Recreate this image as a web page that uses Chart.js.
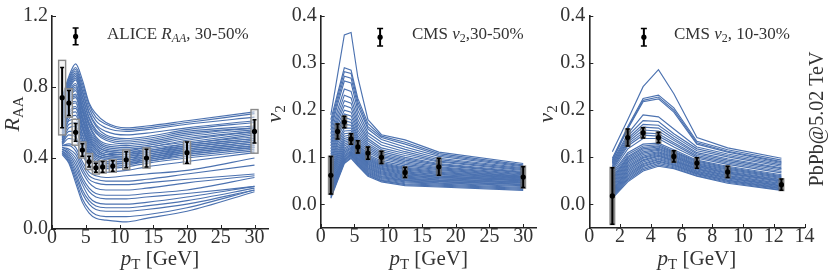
<!DOCTYPE html>
<html><head><meta charset="utf-8">
<script src="https://cdn.jsdelivr.net/npm/chart.js"></script>
<style>
html,body{margin:0;padding:0;background:#fff;}
#wrap{position:relative;width:830px;height:277px;overflow:hidden;background:#fff;}
#wrap canvas{position:absolute;left:0;top:0;}
</style></head><body>
<div id="wrap">
<canvas id="c1" width="830" height="277"></canvas>
<canvas id="c2" width="830" height="277"></canvas>
<canvas id="c3" width="830" height="277"></canvas>
</div>
<script>
// ---------- Panel 1: ALICE R_AA 30-50% ----------
const raaModelPt = [1.5, 2.5, 3.5, 4.5, 5.5, 6.5, 8, 11, 14, 20, 30];
const raaModels = [
 [0.74,0.86,0.93,0.84,0.71,0.65,0.60,0.57,0.58,0.61,0.66],
 [0.73,0.85,0.91,0.82,0.70,0.63,0.59,0.56,0.57,0.60,0.65],
 [0.72,0.84,0.90,0.80,0.68,0.61,0.57,0.55,0.56,0.59,0.63],
 [0.71,0.83,0.89,0.78,0.66,0.59,0.55,0.53,0.54,0.57,0.61],
 [0.70,0.82,0.88,0.77,0.65,0.58,0.53,0.51,0.52,0.56,0.60],
 [0.69,0.81,0.87,0.75,0.63,0.56,0.52,0.50,0.51,0.55,0.58],
 [0.68,0.80,0.86,0.74,0.62,0.55,0.51,0.49,0.50,0.54,0.57],
 [0.67,0.79,0.85,0.72,0.60,0.54,0.50,0.48,0.49,0.53,0.57],
 [0.66,0.78,0.84,0.71,0.59,0.52,0.48,0.47,0.48,0.52,0.56],
 [0.65,0.77,0.82,0.69,0.58,0.51,0.47,0.46,0.47,0.51,0.55],
 [0.64,0.76,0.81,0.68,0.56,0.50,0.46,0.45,0.46,0.50,0.55],
 [0.63,0.75,0.80,0.67,0.55,0.49,0.45,0.44,0.46,0.49,0.54],
 [0.62,0.74,0.79,0.66,0.54,0.48,0.44,0.43,0.45,0.48,0.53],
 [0.61,0.73,0.78,0.64,0.53,0.47,0.44,0.43,0.44,0.48,0.52],
 [0.60,0.72,0.76,0.63,0.52,0.46,0.43,0.42,0.44,0.47,0.51],
 [0.59,0.71,0.75,0.62,0.51,0.45,0.42,0.42,0.43,0.47,0.51],
 [0.58,0.70,0.74,0.61,0.50,0.45,0.42,0.41,0.43,0.46,0.50],
 [0.57,0.69,0.72,0.59,0.49,0.44,0.41,0.41,0.42,0.46,0.50],
 [0.56,0.68,0.71,0.58,0.48,0.43,0.41,0.40,0.42,0.45,0.49],
 [0.55,0.66,0.69,0.57,0.47,0.42,0.40,0.40,0.41,0.45,0.49],
 [0.54,0.65,0.68,0.56,0.46,0.42,0.40,0.39,0.41,0.44,0.48],
 [0.53,0.64,0.66,0.54,0.45,0.41,0.39,0.39,0.40,0.44,0.48],
 [0.52,0.62,0.64,0.53,0.44,0.40,0.38,0.38,0.40,0.43,0.47],
 [0.51,0.61,0.62,0.51,0.43,0.39,0.38,0.38,0.39,0.43,0.47],
 [0.50,0.59,0.60,0.50,0.42,0.38,0.37,0.37,0.39,0.42,0.46],
 [0.49,0.57,0.58,0.48,0.41,0.37,0.36,0.37,0.38,0.42,0.46],
 [0.485,0.55,0.55,0.46,0.39,0.36,0.35,0.36,0.38,0.41,0.45],
 [0.48,0.53,0.52,0.44,0.37,0.34,0.34,0.35,0.37,0.40,0.44],
 [0.475,0.51,0.50,0.42,0.35,0.32,0.32,0.33,0.35,0.38,0.43],
 [0.47,0.48,0.46,0.38,0.32,0.30,0.29,0.30,0.31,0.33,0.40],
 [0.47,0.47,0.44,0.36,0.30,0.28,0.27,0.27,0.28,0.31,0.36],
 [0.46,0.45,0.42,0.34,0.28,0.26,0.25,0.25,0.26,0.28,0.31],
 [0.46,0.44,0.40,0.32,0.26,0.23,0.22,0.22,0.23,0.26,0.30],
 [0.45,0.43,0.38,0.29,0.23,0.20,0.19,0.19,0.20,0.22,0.29],
 [0.45,0.42,0.36,0.27,0.21,0.18,0.17,0.17,0.18,0.20,0.24],
 [0.44,0.41,0.34,0.25,0.18,0.15,0.14,0.14,0.15,0.18,0.24],
 [0.44,0.40,0.32,0.22,0.16,0.13,0.12,0.12,0.13,0.16,0.23],
 [0.43,0.39,0.30,0.20,0.14,0.11,0.10,0.10,0.11,0.14,0.22],
 [0.43,0.38,0.28,0.17,0.11,0.08,0.07,0.07,0.08,0.12,0.22],
 [0.42,0.37,0.26,0.15,0.09,0.06,0.05,0.04,0.06,0.10,0.21]
];
const raaPt   = [1.5, 2.5, 3.5, 4.5, 5.5, 6.5, 7.5, 9, 11, 14, 20, 30];
const raaVal  = [0.74, 0.71, 0.545, 0.445, 0.38, 0.345, 0.35, 0.355, 0.39, 0.40, 0.43, 0.55];
const raaStat = [0.17, 0.07, 0.05, 0.035, 0.03, 0.025, 0.03, 0.03, 0.045, 0.05, 0.06, 0.065];
const raaSys  = [0.21, 0.08, 0.073, 0.045, 0.045, 0.035, 0.035, 0.035, 0.055, 0.057, 0.063, 0.123];
const raaLegend = [3.5, 1.085, 0.047];
const raaTicksX = [0, 5, 10, 15, 20, 25, 30];
const raaTicksY = [0.0, 0.4, 0.8, 1.2];

// ---------- Panel 2: CMS v2 30-50% ----------
const v2aModelPt = [1.5, 2.5, 3.5, 4.5, 5.5, 7, 9, 12.5, 17.5, 30];
const v2aModels = [
 [0.190,0.275,0.360,0.365,0.270,0.180,0.148,0.137,0.111,0.087],
 [0.180,0.235,0.290,0.285,0.225,0.172,0.145,0.132,0.108,0.084],
 [0.172,0.228,0.282,0.278,0.218,0.165,0.142,0.128,0.105,0.082],
 [0.165,0.220,0.272,0.268,0.210,0.160,0.138,0.122,0.102,0.080],
 [0.158,0.212,0.262,0.258,0.200,0.152,0.132,0.117,0.098,0.078],
 [0.150,0.200,0.245,0.240,0.190,0.146,0.126,0.112,0.095,0.076],
 [0.143,0.190,0.232,0.226,0.180,0.140,0.120,0.108,0.092,0.074],
 [0.136,0.182,0.220,0.215,0.172,0.135,0.116,0.104,0.090,0.072],
 [0.130,0.175,0.210,0.205,0.165,0.130,0.112,0.100,0.087,0.070],
 [0.124,0.168,0.200,0.196,0.158,0.126,0.108,0.097,0.085,0.068],
 [0.118,0.160,0.192,0.188,0.152,0.122,0.105,0.094,0.083,0.067],
 [0.112,0.154,0.185,0.180,0.146,0.118,0.102,0.091,0.080,0.065],
 [0.106,0.148,0.178,0.174,0.141,0.114,0.099,0.088,0.078,0.063],
 [0.100,0.142,0.170,0.168,0.136,0.110,0.096,0.085,0.076,0.062],
 [0.095,0.135,0.162,0.162,0.132,0.106,0.092,0.082,0.074,0.060],
 [0.090,0.130,0.156,0.157,0.128,0.103,0.089,0.079,0.072,0.059],
 [0.085,0.124,0.150,0.152,0.125,0.100,0.087,0.077,0.070,0.058],
 [0.080,0.118,0.145,0.148,0.122,0.098,0.085,0.075,0.068,0.057],
 [0.075,0.113,0.140,0.144,0.119,0.096,0.083,0.073,0.066,0.056],
 [0.070,0.108,0.136,0.140,0.116,0.094,0.081,0.071,0.064,0.055],
 [0.066,0.104,0.132,0.137,0.114,0.092,0.079,0.069,0.063,0.054],
 [0.062,0.100,0.128,0.134,0.112,0.090,0.077,0.067,0.061,0.053],
 [0.058,0.096,0.124,0.131,0.110,0.088,0.075,0.065,0.060,0.052],
 [0.054,0.092,0.120,0.128,0.108,0.086,0.073,0.063,0.058,0.051],
 [0.050,0.088,0.117,0.125,0.106,0.084,0.071,0.062,0.057,0.050],
 [0.046,0.084,0.114,0.122,0.104,0.082,0.069,0.060,0.055,0.048],
 [0.042,0.080,0.111,0.120,0.102,0.080,0.067,0.058,0.054,0.047],
 [0.038,0.076,0.108,0.118,0.100,0.078,0.065,0.056,0.052,0.046],
 [0.035,0.073,0.105,0.115,0.098,0.076,0.063,0.054,0.051,0.045],
 [0.032,0.070,0.102,0.113,0.096,0.074,0.061,0.053,0.049,0.043],
 [0.029,0.067,0.100,0.111,0.094,0.072,0.059,0.051,0.048,0.042],
 [0.026,0.064,0.097,0.109,0.092,0.070,0.057,0.050,0.046,0.040],
 [0.023,0.061,0.095,0.107,0.090,0.068,0.055,0.048,0.045,0.038],
 [0.020,0.058,0.093,0.105,0.088,0.066,0.053,0.046,0.043,0.036],
 [0.018,0.056,0.091,0.103,0.086,0.064,0.051,0.044,0.041,0.034],
 [0.015,0.053,0.089,0.100,0.084,0.062,0.050,0.042,0.039,0.032],
 [0.013,0.050,0.087,0.098,0.082,0.060,0.048,0.040,0.037,0.030]
];
const v2aPt   = [1.5, 2.5, 3.5, 4.5, 5.5, 7, 9, 12.5, 17.5, 30];
const v2aVal  = [0.062, 0.155, 0.175, 0.139, 0.122, 0.109, 0.100, 0.068, 0.080, 0.058];
const v2aStat = [0.040, 0.016, 0.012, 0.011, 0.013, 0.013, 0.013, 0.011, 0.018, 0.022];
const v2aSys  = [0.042, 0.018, 0.014, 0.013, 0.015, 0.015, 0.015, 0.013, 0.020, 0.025];
const v2aLegend = [8.8, 0.355, 0.0185];
const v2aTicksX = [0, 5, 10, 15, 20, 25, 30];

// ---------- Panel 3: CMS v2 10-30% ----------
const v2bModelPt = [1.5, 2.5, 3.5, 4.5, 5.5, 7, 9, 12.5];
const v2bModels = [
 [0.112,0.180,0.250,0.286,0.235,0.142,0.120,0.098],
 [0.098,0.165,0.225,0.232,0.205,0.134,0.116,0.094],
 [0.095,0.162,0.221,0.228,0.200,0.131,0.113,0.091],
 [0.093,0.160,0.218,0.224,0.196,0.128,0.111,0.089],
 [0.090,0.150,0.190,0.186,0.160,0.122,0.107,0.087],
 [0.088,0.145,0.178,0.176,0.150,0.118,0.104,0.084],
 [0.085,0.140,0.170,0.168,0.145,0.114,0.101,0.081],
 [0.082,0.136,0.164,0.162,0.140,0.110,0.097,0.078],
 [0.080,0.132,0.158,0.156,0.136,0.107,0.094,0.076],
 [0.077,0.128,0.152,0.150,0.131,0.104,0.091,0.073],
 [0.074,0.124,0.147,0.145,0.127,0.101,0.088,0.070],
 [0.070,0.118,0.140,0.140,0.122,0.098,0.085,0.067],
 [0.066,0.110,0.128,0.130,0.116,0.094,0.081,0.063],
 [0.062,0.106,0.124,0.127,0.113,0.092,0.079,0.061],
 [0.058,0.102,0.121,0.124,0.111,0.090,0.077,0.059],
 [0.055,0.099,0.118,0.122,0.109,0.088,0.075,0.057],
 [0.052,0.096,0.115,0.119,0.107,0.086,0.073,0.055],
 [0.049,0.093,0.112,0.117,0.105,0.084,0.071,0.053],
 [0.046,0.090,0.109,0.115,0.103,0.083,0.069,0.052],
 [0.043,0.087,0.106,0.112,0.101,0.081,0.067,0.050],
 [0.040,0.084,0.103,0.110,0.099,0.080,0.066,0.049],
 [0.037,0.081,0.100,0.108,0.097,0.078,0.064,0.047],
 [0.034,0.078,0.098,0.106,0.095,0.076,0.062,0.045],
 [0.031,0.075,0.095,0.104,0.093,0.075,0.061,0.044],
 [0.029,0.072,0.093,0.102,0.092,0.073,0.059,0.042],
 [0.027,0.069,0.090,0.099,0.090,0.071,0.057,0.040],
 [0.025,0.066,0.087,0.097,0.088,0.070,0.056,0.039],
 [0.023,0.063,0.085,0.095,0.086,0.068,0.054,0.037],
 [0.021,0.060,0.082,0.092,0.084,0.066,0.052,0.036],
 [0.019,0.057,0.080,0.090,0.082,0.065,0.051,0.034],
 [0.017,0.054,0.077,0.087,0.080,0.063,0.049,0.033],
 [0.015,0.051,0.074,0.084,0.078,0.061,0.047,0.031],
 [0.013,0.048,0.071,0.081,0.076,0.060,0.045,0.030]
];
const v2bPt   = [1.5, 2.5, 3.5, 4.5, 5.5, 7, 9, 12.5];
const v2bVal  = [0.018, 0.142, 0.152, 0.142, 0.102, 0.088, 0.069, 0.042];
const v2bStat = [0.060, 0.018, 0.011, 0.011, 0.012, 0.011, 0.012, 0.012];
const v2bSys  = [0.062, 0.020, 0.013, 0.013, 0.014, 0.013, 0.014, 0.014];
const v2bLegend = [3.55, 0.355, 0.0185];
const v2bTicksX = [0, 2, 4, 6, 8, 10, 12, 14];
const v2TicksY = [0.0, 0.1, 0.2, 0.3, 0.4];

// ---------- drawing ----------
const BLUE = '#4C72B0';
const AXC = '#222';
const TXT = '#333';
const SERIF = '"Liberation Serif", "DejaVu Serif", serif';

function drawRich(ctx, parts, x, y, align, rot) {
  ctx.save();
  ctx.translate(x, y);
  if (rot) ctx.rotate(rot);
  let w = 0;
  for (const p of parts) { ctx.font = p.f; w += ctx.measureText(p.t).width; }
  let cx = align === 'center' ? -w / 2 : (align === 'right' ? -w : 0);
  ctx.fillStyle = TXT; ctx.textBaseline = 'alphabetic'; ctx.textAlign = 'left';
  for (const p of parts) { ctx.font = p.f; ctx.fillText(p.t, cx, p.dy || 0); cx += ctx.measureText(p.t).width; }
  ctx.restore();
}

function overlay(p) {
  return {
    id: 'overlay',
    afterDraw(chart) {
      const ctx = chart.ctx, xs = chart.scales.x, ys = chart.scales.y;
      const area = chart.chartArea;
      ctx.save();
      // inward tick marks
      ctx.strokeStyle = AXC; ctx.lineWidth = 1;
      for (const v of p.ticksX) {
        const px = Math.round(xs.getPixelForValue(v)) + 0.5;
        ctx.beginPath(); ctx.moveTo(px, area.bottom); ctx.lineTo(px, area.bottom - 4); ctx.stroke();
      }
      for (const v of p.ticksY) {
        const py = Math.round(ys.getPixelForValue(v)) + 0.5;
        ctx.beginPath(); ctx.moveTo(area.left, py); ctx.lineTo(area.left + 4, py); ctx.stroke();
      }
      // systematic boxes
      for (let i = 0; i < p.pt.length; i++) {
        const px = xs.getPixelForValue(p.pt[i]);
        const y1 = ys.getPixelForValue(p.val[i] + p.sys[i]);
        const y2 = ys.getPixelForValue(p.val[i] - p.sys[i]);
        if (p.open) {
          ctx.fillStyle = 'rgba(235,235,235,0.55)';
          ctx.fillRect(px - 3.5, y1, 7, y2 - y1);
          ctx.strokeStyle = '#8a8a8a'; ctx.lineWidth = 1.4;
          ctx.strokeRect(px - 3.5, y1, 7, y2 - y1);
        } else {
          ctx.fillStyle = 'rgba(100,100,100,0.75)';
          ctx.fillRect(px - 3, y1, 6, y2 - y1);
        }
      }
      // stat error bars and points
      ctx.strokeStyle = '#000'; ctx.fillStyle = '#000';
      const bar = (x, v, e, cap) => {
        const px = xs.getPixelForValue(x);
        const y1 = ys.getPixelForValue(v + e), y2 = ys.getPixelForValue(v - e), py = ys.getPixelForValue(v);
        ctx.lineWidth = 2;
        ctx.beginPath(); ctx.moveTo(px, y1); ctx.lineTo(px, y2); ctx.stroke();
        ctx.lineWidth = 1.5;
        ctx.beginPath(); ctx.moveTo(px - cap, y1); ctx.lineTo(px + cap, y1);
        ctx.moveTo(px - cap, y2); ctx.lineTo(px + cap, y2); ctx.stroke();
        ctx.beginPath(); ctx.arc(px, py, 2.6, 0, Math.PI * 2); ctx.fill();
      };
      for (let i = 0; i < p.pt.length; i++) bar(p.pt[i], p.val[i], p.stat[i], 2);
      bar(p.legend[0], p.legend[1], p.legend[2], 3);
      ctx.restore();
      // texts
      const F = (s, it) => (it ? 'italic ' : '') + s + 'px ' + SERIF;
      drawRich(ctx, p.note, p.noteX, 38.5, 'left', 0);
      drawRich(ctx, [{t:'p', f:F(21, true)}, {t:'T', f:F(15), dy:4}, {t:' [GeV]', f:F(21)}],
               (area.left + area.right) / 2, 265, 'center', 0);
      drawRich(ctx, p.yTitle, p.yTitleX, 114, 'center', -Math.PI / 2);
      if (p.side) {
        ctx.save(); ctx.translate(823, 119); ctx.rotate(-Math.PI / 2);
        ctx.font = '20px ' + SERIF; ctx.fillStyle = TXT; ctx.textAlign = 'center'; ctx.textBaseline = 'alphabetic';
        ctx.fillText(p.side, 0, 0); ctx.restore();
      }
    }
  };
}

function buildPanel(id, p) {
  const datasets = p.models.map(curve => ({
    data: curve.map((y, i) => ({ x: p.modelPt[i], y })),
    borderColor: BLUE, borderWidth: 1.15, pointRadius: 0, fill: false,
    tension: p.smooth ? 0.4 : 0,
    cubicInterpolationMode: p.smooth ? 'monotone' : 'default'
  }));
  const tickFont = { family: SERIF, size: 20 };
  new Chart(document.getElementById(id), {
    type: 'line',
    data: { datasets },
    options: {
      responsive: false, animation: false, events: [],
      layout: { padding: { left: p.padL, right: p.padR, top: 12, bottom: 0 } },
      plugins: { legend: { display: false }, tooltip: { enabled: false } },
      scales: {
        x: {
          type: 'linear', min: 0, max: p.xmax,
          afterBuildTicks: s => { s.ticks = p.ticksX.map(v => ({ value: v })); },
          afterFit: s => { s.height = p.xh; },
          grid: { display: true, drawOnChartArea: false, drawTicks: false },
          border: { display: true, color: AXC, width: 1.6 },
          ticks: { font: tickFont, color: TXT, padding: -3, maxRotation: 0, autoSkip: false,
                   callback: v => String(v) }
        },
        y: {
          type: 'linear', min: p.ymin, max: p.ymax,
          afterBuildTicks: s => { s.ticks = p.ticksY.map(v => ({ value: v })); },
          afterFit: s => { s.width = 45; },
          grid: { display: true, drawOnChartArea: false, drawTicks: false },
          border: { display: true, color: AXC, width: 1.6 },
          ticks: { font: tickFont, color: TXT, padding: 4, autoSkip: false,
                   callback: v => Number(v).toFixed(1) }
        }
      }
    },
    plugins: [overlay(p)]
  });
}

const F = (s, it) => (it ? 'italic ' : '') + s + 'px ' + SERIF;

buildPanel('c1', {
  models: raaModels, modelPt: raaModelPt, smooth: true,
  pt: raaPt, val: raaVal, stat: raaStat, sys: raaSys, open: true, legend: raaLegend,
  ticksX: raaTicksX, ticksY: raaTicksY, xmax: 32, ymin: 0, ymax: 1.2, xh: 48,
  padL: 7, padR: 562,
  note: [{t:'ALICE ', f:F(17)}, {t:'R', f:F(17, true)}, {t:'AA', f:F(12, true), dy:3}, {t:', 30-50%', f:F(17)}],
  noteX: 107,
  yTitle: [{t:'R', f:F(22, true)}, {t:'AA', f:F(15), dy:4}], yTitleX: 19
});
buildPanel('c2', {
  models: v2aModels, modelPt: v2aModelPt, smooth: false,
  pt: v2aPt, val: v2aVal, stat: v2aStat, sys: v2aSys, open: false, legend: v2aLegend,
  ticksX: v2aTicksX, ticksY: v2TicksY, xmax: 32, ymin: -0.05, ymax: 0.4, xh: 49,
  padL: 275.7, padR: 293.3,
  note: [{t:'CMS ', f:F(17)}, {t:'v', f:F(17, true)}, {t:'2', f:F(12), dy:3}, {t:',30-50%', f:F(17)}],
  noteX: 412,
  yTitle: [{t:'v', f:F(22, true)}, {t:'2', f:F(15), dy:4}], yTitleX: 281
});
buildPanel('c3', {
  models: v2bModels, modelPt: v2bModelPt, smooth: false,
  pt: v2bPt, val: v2bVal, stat: v2bStat, sys: v2bSys, open: false, legend: v2bLegend,
  ticksX: v2bTicksX, ticksY: v2TicksY, xmax: 14, ymin: -0.05, ymax: 0.4, xh: 49,
  padL: 544.3, padR: 25.5,
  note: [{t:'CMS ', f:F(17)}, {t:'v', f:F(17, true)}, {t:'2', f:F(12), dy:3}, {t:', 10-30%', f:F(17)}],
  noteX: 674,
  yTitle: [{t:'v', f:F(22, true)}, {t:'2', f:F(15), dy:4}], yTitleX: 553,
  side: 'PbPb@5.02 TeV'
});
</script>
</body></html>
